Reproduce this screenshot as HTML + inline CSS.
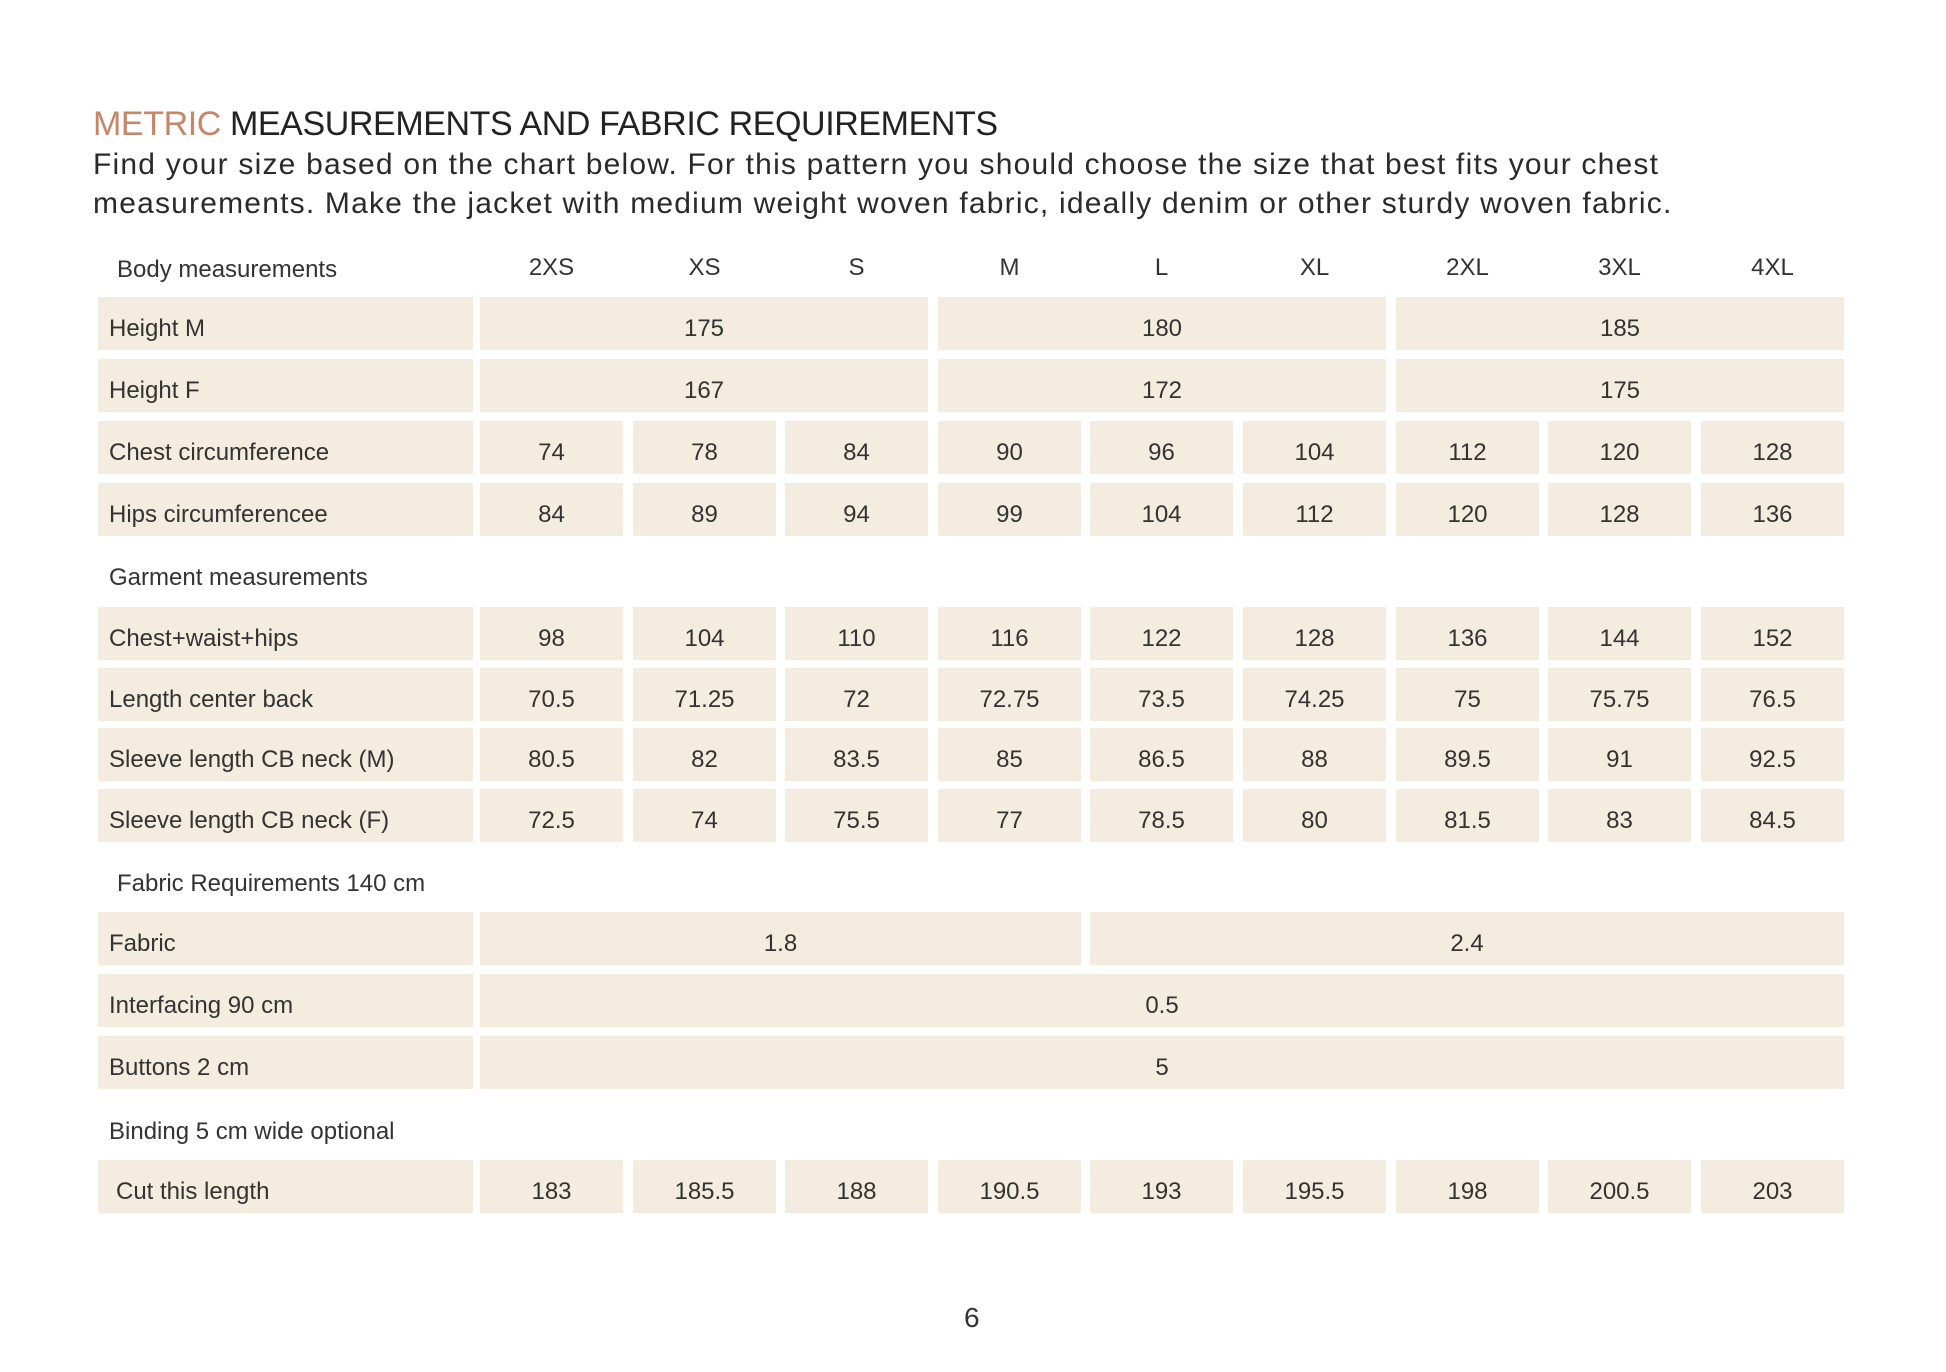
<!DOCTYPE html>
<html><head><meta charset="utf-8"><style>
body{margin:0;width:1946px;height:1372px;background:#fff;position:relative;overflow:hidden;font-family:"Liberation Sans",sans-serif;color:#2e2c2a}
.a{position:absolute}
.c{position:absolute;background:#f4ecdf;height:53px;display:flex;align-items:center;justify-content:center;font-size:24px;color:#333;padding-top:10px;box-sizing:border-box}
.l{justify-content:flex-start;padding-left:11px;left:98px;width:375px}
.t{position:absolute;font-size:24px;color:#333;transform:translateY(-50%)}
.h{position:absolute;font-size:24px;color:#333;width:143px;text-align:center;top:254px}
</style></head><body>
<div class="a" style="left:93px;top:105px;font-size:34px;letter-spacing:-0.4px;color:#222"><span style="color:#c4876a">METRIC</span> MEASUREMENTS AND FABRIC REQUIREMENTS</div>
<div class="a" style="left:93px;top:145px;font-size:30px;line-height:39px;color:#2a2a2a;letter-spacing:1.2px">Find your size based on the chart below. For this pattern you should choose the size that best fits your chest<br>measurements. Make the jacket with medium weight woven fabric, ideally denim or other sturdy woven fabric.</div>

<div class="t" style="left:117px;top:270px">Body measurements</div>
<div class="h" style="left:480px">2XS</div><div class="h" style="left:633px">XS</div><div class="h" style="left:785px">S</div><div class="h" style="left:938px">M</div><div class="h" style="left:1090px">L</div><div class="h" style="left:1243px">XL</div><div class="h" style="left:1396px">2XL</div><div class="h" style="left:1548px">3XL</div><div class="h" style="left:1701px">4XL</div>

<div class="c l" style="top:297px">Height M</div>
<div class="c" style="top:297px;left:480px;width:448px">175</div><div class="c" style="top:297px;left:938px;width:448px">180</div><div class="c" style="top:297px;left:1396px;width:448px">185</div>
<div class="c l" style="top:359px">Height F</div>
<div class="c" style="top:359px;left:480px;width:448px">167</div><div class="c" style="top:359px;left:938px;width:448px">172</div><div class="c" style="top:359px;left:1396px;width:448px">175</div>

<div class="c l" style="top:421px">Chest circumference</div>
<div class="c" style="top:421px;left:480px;width:143px">74</div><div class="c" style="top:421px;left:633px;width:143px">78</div><div class="c" style="top:421px;left:785px;width:143px">84</div><div class="c" style="top:421px;left:938px;width:143px">90</div><div class="c" style="top:421px;left:1090px;width:143px">96</div><div class="c" style="top:421px;left:1243px;width:143px">104</div><div class="c" style="top:421px;left:1396px;width:143px">112</div><div class="c" style="top:421px;left:1548px;width:143px">120</div><div class="c" style="top:421px;left:1701px;width:143px">128</div>

<div class="c l" style="top:483px">Hips circumferencee</div>
<div class="c" style="top:483px;left:480px;width:143px">84</div><div class="c" style="top:483px;left:633px;width:143px">89</div><div class="c" style="top:483px;left:785px;width:143px">94</div><div class="c" style="top:483px;left:938px;width:143px">99</div><div class="c" style="top:483px;left:1090px;width:143px">104</div><div class="c" style="top:483px;left:1243px;width:143px">112</div><div class="c" style="top:483px;left:1396px;width:143px">120</div><div class="c" style="top:483px;left:1548px;width:143px">128</div><div class="c" style="top:483px;left:1701px;width:143px">136</div>

<div class="t" style="left:109px;top:578px">Garment measurements</div>

<div class="c l" style="top:607px">Chest+waist+hips</div>
<div class="c" style="top:607px;left:480px;width:143px">98</div><div class="c" style="top:607px;left:633px;width:143px">104</div><div class="c" style="top:607px;left:785px;width:143px">110</div><div class="c" style="top:607px;left:938px;width:143px">116</div><div class="c" style="top:607px;left:1090px;width:143px">122</div><div class="c" style="top:607px;left:1243px;width:143px">128</div><div class="c" style="top:607px;left:1396px;width:143px">136</div><div class="c" style="top:607px;left:1548px;width:143px">144</div><div class="c" style="top:607px;left:1701px;width:143px">152</div>

<div class="c l" style="top:668px">Length center back</div>
<div class="c" style="top:668px;left:480px;width:143px">70.5</div><div class="c" style="top:668px;left:633px;width:143px">71.25</div><div class="c" style="top:668px;left:785px;width:143px">72</div><div class="c" style="top:668px;left:938px;width:143px">72.75</div><div class="c" style="top:668px;left:1090px;width:143px">73.5</div><div class="c" style="top:668px;left:1243px;width:143px">74.25</div><div class="c" style="top:668px;left:1396px;width:143px">75</div><div class="c" style="top:668px;left:1548px;width:143px">75.75</div><div class="c" style="top:668px;left:1701px;width:143px">76.5</div>

<div class="c l" style="top:728px">Sleeve length CB neck (M)</div>
<div class="c" style="top:728px;left:480px;width:143px">80.5</div><div class="c" style="top:728px;left:633px;width:143px">82</div><div class="c" style="top:728px;left:785px;width:143px">83.5</div><div class="c" style="top:728px;left:938px;width:143px">85</div><div class="c" style="top:728px;left:1090px;width:143px">86.5</div><div class="c" style="top:728px;left:1243px;width:143px">88</div><div class="c" style="top:728px;left:1396px;width:143px">89.5</div><div class="c" style="top:728px;left:1548px;width:143px">91</div><div class="c" style="top:728px;left:1701px;width:143px">92.5</div>

<div class="c l" style="top:789px">Sleeve length CB neck (F)</div>
<div class="c" style="top:789px;left:480px;width:143px">72.5</div><div class="c" style="top:789px;left:633px;width:143px">74</div><div class="c" style="top:789px;left:785px;width:143px">75.5</div><div class="c" style="top:789px;left:938px;width:143px">77</div><div class="c" style="top:789px;left:1090px;width:143px">78.5</div><div class="c" style="top:789px;left:1243px;width:143px">80</div><div class="c" style="top:789px;left:1396px;width:143px">81.5</div><div class="c" style="top:789px;left:1548px;width:143px">83</div><div class="c" style="top:789px;left:1701px;width:143px">84.5</div>

<div class="t" style="left:117px;top:884px">Fabric Requirements 140 cm</div>

<div class="c l" style="top:912px">Fabric</div>
<div class="c" style="top:912px;left:480px;width:601px">1.8</div><div class="c" style="top:912px;left:1090px;width:754px">2.4</div>
<div class="c l" style="top:974px">Interfacing 90 cm</div>
<div class="c" style="top:974px;left:480px;width:1364px">0.5</div>
<div class="c l" style="top:1036px">Buttons 2 cm</div>
<div class="c" style="top:1036px;left:480px;width:1364px">5</div>

<div class="t" style="left:109px;top:1132px">Binding 5 cm wide optional</div>

<div class="c l" style="top:1160px;padding-left:18px">Cut this length</div>
<div class="c" style="top:1160px;left:480px;width:143px">183</div><div class="c" style="top:1160px;left:633px;width:143px">185.5</div><div class="c" style="top:1160px;left:785px;width:143px">188</div><div class="c" style="top:1160px;left:938px;width:143px">190.5</div><div class="c" style="top:1160px;left:1090px;width:143px">193</div><div class="c" style="top:1160px;left:1243px;width:143px">195.5</div><div class="c" style="top:1160px;left:1396px;width:143px">198</div><div class="c" style="top:1160px;left:1548px;width:143px">200.5</div><div class="c" style="top:1160px;left:1701px;width:143px">203</div>

<div class="t" style="left:964px;top:1318px;font-size:28px">6</div>
</body></html>
